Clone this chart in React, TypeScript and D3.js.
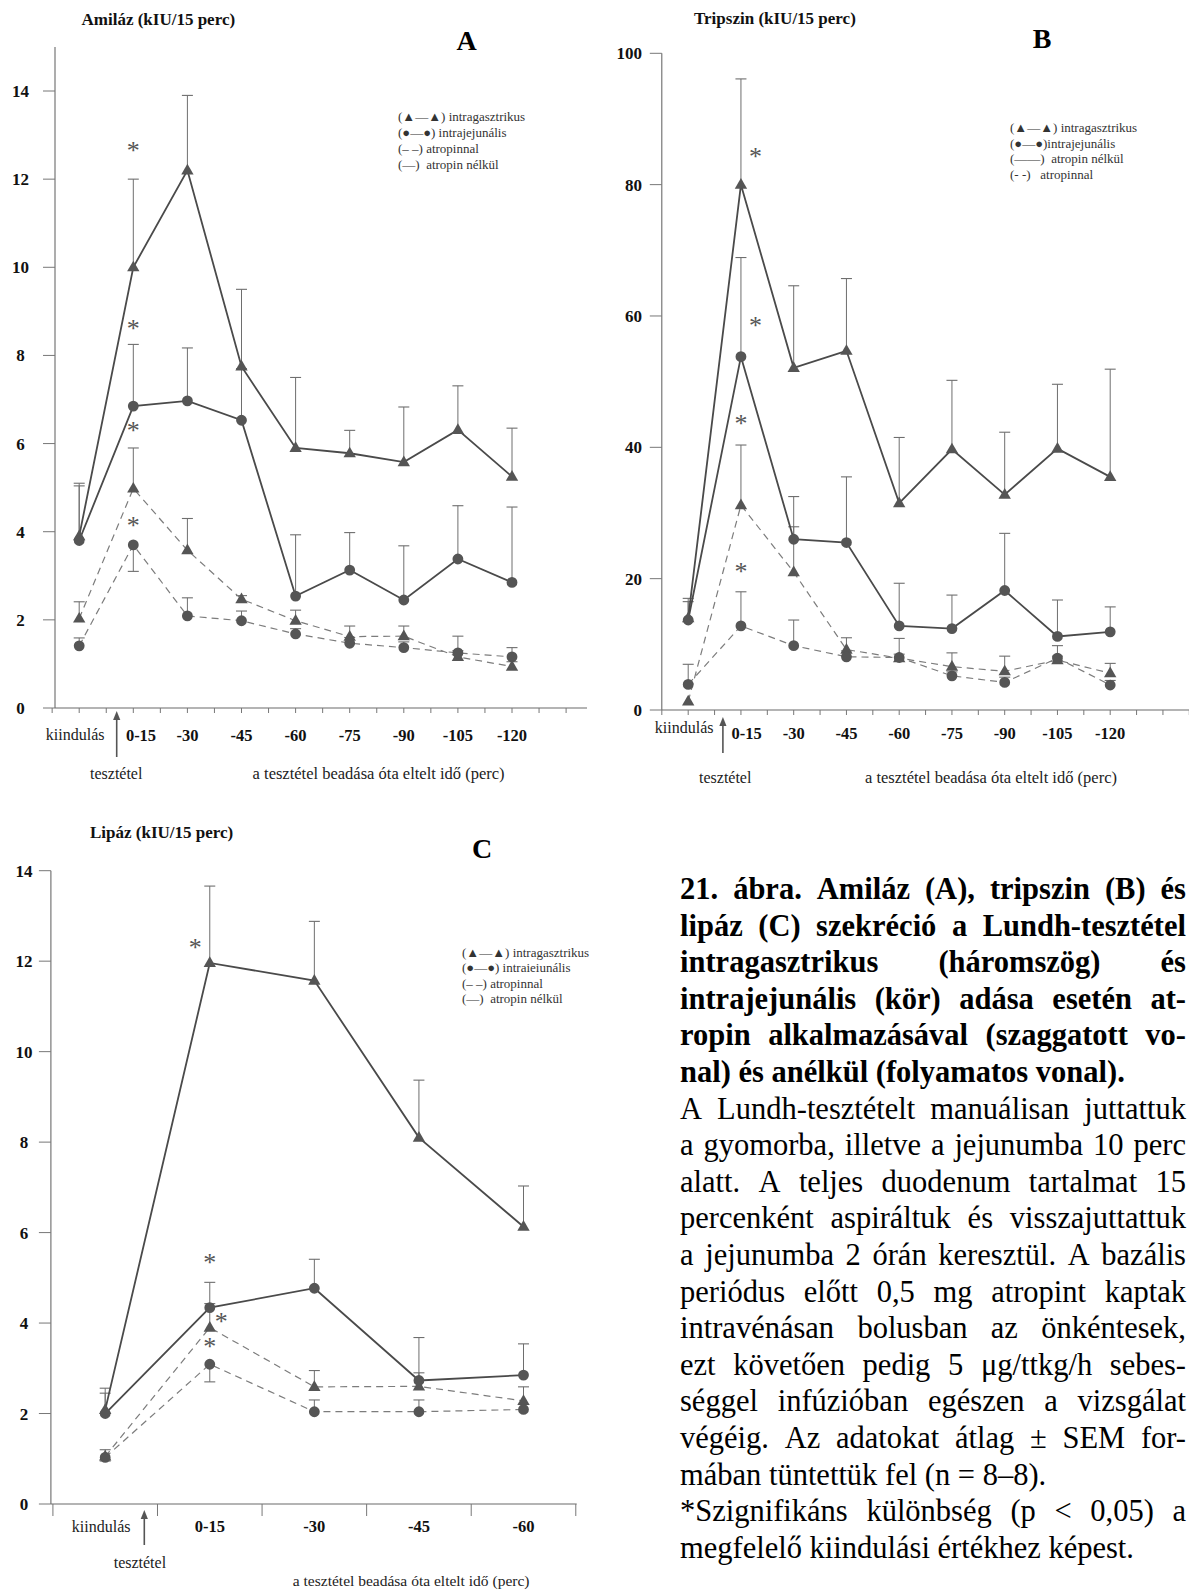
import React from 'react';
import * as d3 from 'd3';

// ---------- categories ----------
const catsAB = ['kiindulás', '0-15', '-30', '-45', '-60', '-75', '-90', '-105', '-120'];
const catsC = ['kiindulás', '0-15', '-30', '-45', '-60'];

// ---------- A: Amiláz ----------
const amyIgSol = [3.9, 10.0, 12.2, 7.75, 5.9, 5.78, 5.58, 6.31, 5.25];
const amyIgSolErr = [5.1, 12.0, 13.9, 9.5, 7.5, 6.3, 6.83, 7.31, 6.35];
const amyIjSol = [3.8, 6.85, 6.97, 6.53, 2.54, 3.13, 2.45, 3.38, 2.85];
const amyIjSolErr = [5.04, 8.25, 8.17, 7.7, 3.93, 3.98, 3.68, 4.59, 4.56];
const amyIgDash = [2.03, 4.98, 3.58, 2.47, 1.98, 1.62, 1.63, 1.16, 0.94];
const amyIgDashErr = [2.41, 5.9, 4.3, 2.55, 2.22, 1.86, 1.86, 1.3, 1.05];
const amyIjDash = [1.41, 3.7, 2.09, 1.98, 1.68, 1.47, 1.37, 1.25, 1.16];
const amyIjDashErr = [1.59, 3.1, 2.5, 2.2, 1.8, 1.6, 1.5, 1.63, 1.37];
const starsA = [
  { i: 1, v: 12.74, dx: 0 },
  { i: 1, v: 8.69, dx: 0 },
  { i: 1, v: 6.38, dx: 0 },
  { i: 1, v: 4.23, dx: 0 },
];
const yTicksA = [0, 2, 4, 6, 8, 10, 12, 14];
const legendA = ['(▲—▲) intragasztrikus', '(●—●) intrajejunális', '(– –) atropinnal', '(—)  atropin nélkül'];

// ---------- B: Tripszin ----------
const tryIgSol = [14.0, 80.0, 52.1, 54.7, 31.5, 39.7, 32.8, 39.8, 35.5];
const tryIgSolErr = [17.0, 96.1, 64.6, 65.7, 41.5, 50.2, 42.3, 49.6, 51.9];
const tryIjSol = [13.7, 53.8, 26.0, 25.5, 12.8, 12.4, 18.2, 11.2, 11.9];
const tryIjSolErr = [16.5, 68.9, 32.5, 35.5, 19.3, 17.5, 26.9, 16.75, 15.7];
const tryIgDash = [1.3, 31.2, 21.0, 9.2, 7.9, 6.6, 5.9, 7.6, 5.6];
const tryIgDashErr = [1.3, 40.35, 27.9, 11.0, 8.5, 8.7, 8.2, 8.2, 7.1];
const tryIjDash = [3.9, 12.8, 9.8, 8.1, 8.0, 5.2, 4.2, 7.9, 3.8];
const tryIjDashErr = [6.96, 18.0, 13.7, 9.0, 10.9, 5.8, 5.0, 9.8, 4.5];
const starsB = [
  { i: 1, v: 84.8, dx: 0.275 },
  { i: 1, v: 59.1, dx: 0.275 },
  { i: 1, v: 44.2, dx: 0 },
  { i: 1, v: 21.6, dx: 0 },
];
const yTicksB = [0, 20, 40, 60, 80, 100];
const legendB = ['(▲—▲) intragasztrikus', '(●—●)intrajejunális', '(——)  atropin nélkül', '(- -)   atropinnal'];

// ---------- C: Lipáz ----------
const lipIgSol = [2.08, 11.96, 11.57, 8.1, 6.13];
const lipIgSolErr = [2.56, 13.66, 12.88, 9.37, 7.03];
const lipIjSol = [2.0, 4.34, 4.77, 2.73, 2.85];
const lipIjSolErr = [2.45, 4.9, 5.41, 3.68, 3.54];
const lipIgDash = [1.05, 3.9, 2.59, 2.6, 2.28];
const lipIgDashErr = [1.2, 4.43, 2.95, 2.9, 2.59];
const lipIjDash = [1.03, 3.09, 2.04, 2.04, 2.09];
const lipIjDashErr = [0.95, 2.7, 2.3, 2.3, 2.2];
const starsC = [
  { i: 1, v: 12.39, dx: -0.14 },
  { i: 1, v: 5.42, dx: 0 },
  { i: 1, v: 4.12, dx: 0.11 },
  { i: 1, v: 3.57, dx: 0 },
];
const yTicksC = [0, 2, 4, 6, 8, 10, 12, 14];
const legendC = ['(▲—▲) intragasztrikus', '(●—●) intraieiunális', '(– –) atropinnal', '(—)  atropin nélkül'];

// ---------- caption ----------
const captionLines = [
  { t: '21. ábra. Amiláz (A), tripszin (B) és', b: true, j: true },
  { t: 'lipáz (C) szekréció a Lundh-tesztétel', b: true, j: true },
  { t: 'intragasztrikus (háromszög) és', b: true, j: true },
  { t: 'intrajejunális (kör) adása esetén at-', b: true, j: true },
  { t: 'ropin alkalmazásával (szaggatott vo-', b: true, j: true },
  { t: 'nal) és anélkül (folyamatos vonal).', b: true, j: false },
  { t: 'A Lundh-tesztételt manuálisan juttattuk', b: false, j: true },
  { t: 'a gyomorba, illetve a jejunumba 10 perc', b: false, j: true },
  { t: 'alatt. A teljes duodenum tartalmat 15', b: false, j: true },
  { t: 'percenként aspiráltuk és visszajuttattuk', b: false, j: true },
  { t: 'a jejunumba 2 órán keresztül. A bazális', b: false, j: true },
  { t: 'periódus előtt 0,5 mg atropint kaptak', b: false, j: true },
  { t: 'intravénásan bolusban az önkéntesek,', b: false, j: true },
  { t: 'ezt követően pedig 5 μg/ttkg/h sebes-', b: false, j: true },
  { t: 'séggel infúzióban egészen a vizsgálat', b: false, j: true },
  { t: 'végéig. Az adatokat átlag ± SEM for-', b: false, j: true },
  { t: 'mában tüntettük fel (n = 8–8).', b: false, j: false },
  { t: '*Szignifikáns különbség (p < 0,05) a', b: false, j: true },
  { t: 'megfelelő kiindulási értékhez képest.', b: false, j: false },
];

const SERIF = "'Liberation Serif', 'Times New Roman', 'DejaVu Serif', serif";
const SYM = "'Liberation Serif', 'DejaVu Serif', 'DejaVu Sans', serif";

type Series = { vals: number[]; err: number[]; tri: boolean; dashed: boolean };
type Star = { i: number; v: number; dx: number };

function mk(vals: number[], err: number[], tri: boolean, dashed: boolean): Series {
  return { vals, err, tri, dashed };
}

const panels = [
  {
    key: 'A',
    cats: catsAB,
    series: [
      mk(amyIgDash, amyIgDashErr, true, true),
      mk(amyIjDash, amyIjDashErr, false, true),
      mk(amyIgSol, amyIgSolErr, true, false),
      mk(amyIjSol, amyIjSolErr, false, false),
    ],
    stars: starsA,
    yTicks: yTicksA,
    legend: legendA,
    xRange: [79.2, 512], yDomain: [0, 14], yRange: [708, 91],
    axisX: 55, axisRight: 587, axisTopVal: 15,
    tickFrom: -0.5, tickTo: 9, tickStep: 0.5, tickLen: 5,
    yLabelX: 20.5, yLabelAnchor: 'middle',
    xLabelY: 741, kiLabelY: 740, label0Shift: 7.7,
    arrowX: 116.7, arrowTop: 711, arrowBottom: 757,
    tesztX: 90, tesztY: 779, axisLabelX: 252.6, axisLabelY: 779, axisLabelSize: 16.5,
    title: 'Amiláz (kIU/15 perc)', titleX: 81.5, titleY: 25,
    letterX: 466.5, letterY: 50,
    legendX: 398, legendY: 121, legendDy: 16,
  },
  {
    key: 'B',
    cats: catsAB,
    series: [
      mk(tryIgDash, tryIgDashErr, true, true),
      mk(tryIjDash, tryIjDashErr, false, true),
      mk(tryIgSol, tryIgSolErr, true, false),
      mk(tryIjSol, tryIjSolErr, false, false),
    ],
    stars: starsB,
    yTicks: yTicksB,
    legend: legendB,
    xRange: [688.2, 1110.2], yDomain: [0, 100], yRange: [710, 53.3],
    axisX: 661.8, axisRight: 1189, axisTopVal: 100,
    tickFrom: -0.5, tickTo: 9.5, tickStep: 0.5, tickLen: 5,
    yLabelX: 642, yLabelAnchor: 'end',
    xLabelY: 739, kiLabelY: 733, label0Shift: 5.7,
    arrowX: 722.9, arrowTop: 717, arrowBottom: 753,
    tesztX: 699, tesztY: 783, axisLabelX: 865, axisLabelY: 783, axisLabelSize: 16.5,
    title: 'Tripszin (kIU/15 perc)', titleX: 694, titleY: 24,
    letterX: 1042, letterY: 48,
    legendX: 1010, legendY: 131.7, legendDy: 15.8,
  },
  {
    key: 'C',
    cats: catsC,
    series: [
      mk(lipIgDash, lipIgDashErr, true, true),
      mk(lipIjDash, lipIjDashErr, false, true),
      mk(lipIgSol, lipIgSolErr, true, false),
      mk(lipIjSol, lipIjSolErr, false, false),
    ],
    stars: starsC,
    yTicks: yTicksC,
    legend: legendC,
    xRange: [105.2, 523.5], yDomain: [0, 14], yRange: [1504, 870.7],
    axisX: 50.9, axisRight: 576.7, axisTopVal: 14,
    tickFrom: -0.5, tickTo: 4.5, tickStep: 1, tickLen: 12,
    yLabelX: 24, yLabelAnchor: 'middle',
    xLabelY: 1532, kiLabelY: 1532, label0Shift: 0,
    arrowX: 144.3, arrowTop: 1510, arrowBottom: 1545,
    tesztX: 113.7, tesztY: 1568, axisLabelX: 292.8, axisLabelY: 1586, axisLabelSize: 15.5,
    title: 'Lipáz (kIU/15 perc)', titleX: 90, titleY: 838,
    letterX: 482, letterY: 858,
    legendX: 462, legendY: 957, legendDy: 15.3,
  },
];

const triPath = d3.symbol().type(d3.symbolTriangle).size(66)() as string;
const circPath = d3.symbol().type(d3.symbolCircle).size(92)() as string;

function Panel({ p }: { p: any }) {
  const n = p.cats.length;
  const x = d3.scaleLinear().domain([0, n - 1]).range(p.xRange);
  const y = d3.scaleLinear().domain(p.yDomain).range(p.yRange);
  const ticks = d3.range(p.tickFrom, p.tickTo + 1e-6, p.tickStep);
  const line = d3.line<number>().x((_, i) => x(i)).y((v) => y(v));
  const x0 = y(0);
  return (
    <g>
      {/* axes */}
      <line x1={p.axisX} x2={p.axisX} y1={y(p.axisTopVal)} y2={x0} stroke="#6a6a6a" strokeWidth={1.1} />
      <line x1={p.axisX} x2={p.axisRight} y1={x0} y2={x0} stroke="#6a6a6a" strokeWidth={1.1} />
      {ticks.map((t: number, k: number) => (
        <line key={'xt' + k} x1={x(t)} x2={x(t)} y1={x0} y2={x0 + p.tickLen} stroke="#777" strokeWidth={1} />
      ))}
      {p.yTicks.map((t: number) => (
        <g key={'yt' + t}>
          <line x1={p.axisX - 12} x2={p.axisX} y1={y(t)} y2={y(t)} stroke="#777" strokeWidth={1} />
          <text x={p.yLabelX} y={y(t) + 6} textAnchor={p.yLabelAnchor} fontFamily={SERIF} fontWeight="bold" fontSize={17} fill="#111">
            {t}
          </text>
        </g>
      ))}
      {/* x labels */}
      {p.cats.map((c: string, i: number) =>
        i === 0 ? (
          <text key={'xl' + i} x={x(0) - 4} y={p.kiLabelY} textAnchor="middle" fontFamily={SERIF} fontSize={16} fill="#222">
            {c}
          </text>
        ) : (
          <text key={'xl' + i} x={x(i) + (i === 1 ? p.label0Shift : 0)} y={p.xLabelY} textAnchor="middle" fontFamily={SERIF} fontWeight="bold" fontSize={16.5} fill="#111">
            {c}
          </text>
        )
      )}
      {/* arrow */}
      <line x1={p.arrowX} x2={p.arrowX} y1={p.arrowTop + 7} y2={p.arrowBottom} stroke="#555" strokeWidth={1.6} />
      <path d={`M${p.arrowX},${p.arrowTop} L${p.arrowX - 3.6},${p.arrowTop + 9} L${p.arrowX + 3.6},${p.arrowTop + 9} Z`} fill="#555" />
      <text x={p.tesztX} y={p.tesztY} fontFamily={SERIF} fontSize={16} fill="#222">tesztétel</text>
      <text x={p.axisLabelX} y={p.axisLabelY} fontFamily={SERIF} fontSize={p.axisLabelSize} fill="#222">
        a tesztétel beadása óta eltelt idő (perc)
      </text>
      {/* title and letter */}
      <text x={p.titleX} y={p.titleY} fontFamily={SERIF} fontWeight="bold" fontSize={17} fill="#111">{p.title}</text>
      <text x={p.letterX} y={p.letterY} textAnchor="middle" fontFamily={SERIF} fontWeight="bold" fontSize={28} fill="#000">{p.key}</text>
      {/* legend */}
      {p.legend.map((s: string, k: number) => (
        <text key={'lg' + k} x={p.legendX} y={p.legendY + k * p.legendDy} fontFamily={SYM} fontSize={13} fill="#333" style={{ whiteSpace: 'pre' }}>
          {s}
        </text>
      ))}
      {/* error bars */}
      {p.series.map((s: Series, si: number) =>
        s.vals.map((v, i) => {
          const e = s.err[i];
          if (Math.abs(e - v) < 1e-9) return null;
          return (
            <g key={'eb' + si + '-' + i}>
              <line x1={x(i)} x2={x(i)} y1={y(v)} y2={y(e)} stroke="#6e6e6e" strokeWidth={1} />
              <line x1={x(i) - 5.5} x2={x(i) + 5.5} y1={y(e)} y2={y(e)} stroke="#6e6e6e" strokeWidth={1.1} />
            </g>
          );
        })
      )}
      {/* lines */}
      {p.series.map((s: Series, si: number) => (
        <path
          key={'ln' + si}
          d={line(s.vals) as string}
          fill="none"
          stroke={s.dashed ? '#7c7c7c' : '#4a4a4a'}
          strokeWidth={s.dashed ? 1.2 : 1.8}
          strokeDasharray={s.dashed ? '7 5' : undefined}
        />
      ))}
      {/* markers */}
      {p.series.map((s: Series, si: number) =>
        s.vals.map((v, i) => (
          <path
            key={'mk' + si + '-' + i}
            d={s.tri ? triPath : circPath}
            transform={`translate(${x(i)},${y(v) + (s.tri ? 0.5 : 0)})`}
            fill="#555"
          />
        ))
      )}
      {/* significance stars */}
      {p.stars.map((st: Star, k: number) => (
        <text key={'st' + k} x={x(st.i + st.dx)} y={y(st.v) + 12} textAnchor="middle" fontFamily={SERIF} fontSize={26} fill="#555">
          *
        </text>
      ))}
    </g>
  );
}

function Caption() {
  const L = 680;
  const R = 1186;
  const fs = 30.5;
  const lh = 36.6;
  const top = 899;
  const ctx = typeof document !== 'undefined' ? document.createElement('canvas').getContext('2d') : null;
  const meas = (s: string, bold: boolean) => {
    if (!ctx) return s.length * fs * 0.45;
    ctx.font = `${bold ? 'bold ' : ''}${fs}px 'Liberation Serif'`;
    return ctx.measureText(s).width;
  };
  return (
    <g>
      {captionLines.map((ln, k) => {
        const words = ln.t.split(' ');
        const widths = words.map((w) => meas(w, ln.b));
        const total = widths.reduce((a, b) => a + b, 0);
        const gap = ln.j && words.length > 1 ? (R - L - total) / (words.length - 1) : meas(' ', ln.b);
        let cx = L;
        return words.map((w, wi) => {
          const xx = cx;
          cx += widths[wi] + gap;
          return (
            <text key={k + '-' + wi} x={xx} y={top + k * lh} fontFamily={SERIF} fontSize={fs} fontWeight={ln.b ? 'bold' : 'normal'} fill="#000">
              {w}
            </text>
          );
        });
      })}
    </g>
  );
}

export default function App() {
  return (
    <div style={{ position: 'absolute', left: 0, top: 0, width: 1189, height: 1590, background: '#fff' }}>
      <svg width={1189} height={1590} viewBox="0 0 1189 1590" style={{ display: 'block', overflow: 'hidden' }}>
        <rect x={0} y={0} width={1189} height={1590} fill="#fff" />
        {panels.map((p) => (
          <Panel key={p.key} p={p} />
        ))}
        <Caption />
      </svg>
    </div>
  );
}
